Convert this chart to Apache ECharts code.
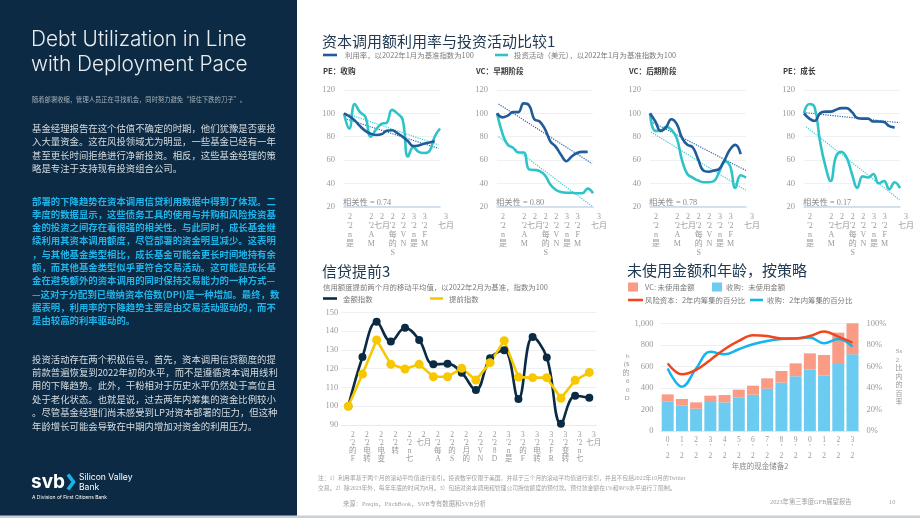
<!DOCTYPE html>
<html><head><meta charset="utf-8">
<script src="https://cdn.jsdelivr.net/npm/echarts@6/dist/echarts.min.js"></script>
<style>html,body{margin:0;padding:0;background:#fff}#c{width:920px;height:518px}</style>
</head><body><div id="c"></div>
<script>
// ---------------- DATA ----------------
const smallTickLabels = ["2\n'2\nn\n是","2\n'2\nF\nM","2\n'2\nA\nM","2\n七月","2\n'2\n每\n的\nS","2\n'2\nV\nN","3\n'2\nn\n是","3\n'2\nF\nM","3\n'2\nA\nM","3\n七月"];
const peBuyoutUtil = [100,97.5,94,89,85,82.5,81.5,82,85,85.5,83,80,76,72,72.5,74,75,76];
const peBuyoutInv  = [100,87,108,101,97,80,86,91,92,103,100,94.5,63,71,67,66,67.5,80,87];
const peBuyoutTrendU = [[0.5,95],[17.7,70]];
const peBuyoutTrendI = [[1,99],[17.7,73]];
const vcEarlyUtil = [100,96.5,98,101,101,108.5,107,95,93,86.5,76,71.5,64.5,59,63,66,67,67];
const vcEarlyInv  = [100,83,73,70.5,66.5,66.5,52,51.5,50.5,47,39,34.5,32.5,32,32,31.5,31.5,35.5,31.5];
const vcEarlyTrendU = [[0.3,108],[17.8,57]];
const vcEarlyTrendI = [[0.3,80],[17.8,20.5]];
const vcLateUtil = [100,93,85,88,95,91,79,73,71,61,51,50,51,52.5,60,69,73,65];
const vcLateInv  = [100,85,85,88.5,86,79,60,48,45,42.5,41,41,42,50,59,55,36,47,45];
const vcLateTrendU = [[0.2,93],[18,51]];
const vcLateTrendI = [[0.2,84],[18,34]];
const peGrowthUtil = [100,95.5,93.5,100,101.5,101.5,103,104.5,104.5,101,96,95.5,95.5,93,93,92.5,89,88];
const peGrowthInv  = [100,108,105,76,55,42,63,67,62,48,36,46,45,48,40,42,35,41,36];
const peGrowthTrendU = [[0.4,100.5],[17.9,92]];
const peGrowthTrendI = [[0.4,88.5],[17.9,26]];
const correlations = ['相关性 = 0.74','相关性 = 0.80','相关性 = 0.78','相关性 = 0.17'];
const panelTitles = ['PE：收购','VC：早期阶段','VC：后期阶段','PE：成长'];

const drawMonths = ["2\n'2\n的\nF","2\n'2\n电\n转","2\n'2\n电\n变","2\n'2\n转","2\n'2\nn\n七","2\n七月","2\n'2\n每\nA","2\n'2\n的\nS","2\n'2\n月\n的","2\n'2\nV\nN","2\n'2\n8\nD","3\n'2\nn\n是","3\n'2\n的\nF","3\n'2\n电\n转","3\n'2\nF\nR","3\n'2\n变\n转","3\n'2\nn\n七","3\n七月"];
const amountIndex  = [100,126.2,145,134.4,141.8,135.3,122.3,122.6,117.8,108.6,125.5,129.8,103.8,136.9,126,90.7,105.6,104.5];
const advanceIndex = [100,117.1,135.3,122.3,119.8,122.3,115.7,115.7,120.2,113.9,123.2,134.9,115.5,115.2,115.2,104.2,113.8,118];

const years = ['2010','2011','2012','2013','2014','2015','2016','2017','2018','2019','2020','2021','2022','2023'];
const buyoutUnused = [272,238,207,269,266,313,337,393,449,508,570,514,622,712];
const vcUnused     = [68,59,59,59,68,71,84,96,108,120,151,192,291,291];
const vcPct2yr     = [62.8,52.6,56.7,66,75.9,83.6,89,88.2,86,86,88.2,92.3,87.6,82];
const buyoutPct2yr = [58,41,58,73.7,71.2,75.9,80.5,83.6,85.4,86,86.7,81.4,85.4,78.3];

const sideTitle = ['Debt Utilization in Line','with Deployment Pace'];
const sideSub = '随着部署收缩，管理人员正在寻找机会，同时努力避免“接住下跌的刀子”。';
const para1 = ['基金经理报告在这个估值不确定的时期，他们犹豫是否要投','入大量资金。这在风投领域尤为明显，一些基金已经有一年','甚至更长时间拒绝进行净新投资。相反，这些基金经理的策','略是专注于支持现有投资组合公司。'];
const para2 = ['部署的下降趋势在资本调用信贷利用数据中得到了体现。二','季度的数据显示，这些债务工具的使用与并购和风险投资基','金的投资之间存在着很强的相关性。与此同时，成长基金继','续利用其资本调用额度，尽管部署的资金明显减少。这表明','，与其他基金类型相比，成长基金可能会更长时间地持有余','额，而其他基金类型似乎更符合交易活动。这可能是成长基','金在避免额外的资本调用的同时保持交易能力的一种方式—','—这对于分配到已缴纳资本倍数(DPI)是一种增加。最终，数','据表明，利用率的下降趋势主要是由交易活动驱动的，而不','是由较高的利率驱动的。'];
const para3 = ['投资活动存在两个积极信号。首先，资本调用信贷额度的提','前款普遍恢复到2022年初的水平，而不是遵循资本调用线利','用的下降趋势。此外，干粉相对于历史水平仍然处于高位且','处于老化状态。也就是说，过去两年内筹集的资金比例较小','。尽管基金经理们尚未感受到LP对资本部署的压力，但这种','年龄增长可能会导致在中期内增加对资金的利用压力。'];
const notes = ['注：1）利用率基于两个月的滚动平均值进行索引。投资数字仅限于美国，并基于三个月的滚动平均值进行索引，并且不包括2022年10月的Twitter','交易。2）除2023年外，每年年底的时间为8月。3）包括对资本调用和管理公司授信额度的预付款。预付款金额在1%和99%水平进行了限制。'];

// ---------------- STYLE ----------------
const CJK = "'Noto Sans CJK SC', 'Noto Sans', sans-serif";
const SERIF = "'Liberation Serif', 'Noto Sans CJK SC', serif";
const cUtil = '#1f5c99', cInv = '#2ec3c8', cTrendU = '#2f68a6', cTrendI = '#37cfd6';

const chart = echarts.init(document.getElementById('c'), null, {renderer:'canvas'});

const grids = [], xAxes = [], yAxes = [], series = [], graphic = [];
const small = [
  {u:peBuyoutUtil, i:peBuyoutInv, tu:peBuyoutTrendU, ti:peBuyoutTrendI, left:344},
  {u:vcEarlyUtil, i:vcEarlyInv, tu:vcEarlyTrendU, ti:vcEarlyTrendI, left:497},
  {u:vcLateUtil, i:vcLateInv, tu:vcLateTrendU, ti:vcLateTrendI, left:650},
  {u:peGrowthUtil, i:peGrowthInv, tu:peGrowthTrendU, ti:peGrowthTrendI, left:804}
];
const pairs = arr => arr.map((v,k)=>[k,v]);
small.forEach((p,k)=>{
  grids.push({left:p.left, top:90, width:96, height:116.7});
  xAxes.push({type:'value', gridIndex:k, min:0, max:18, interval:2,
    axisLine:{show:true, lineStyle:{color:'#c6d9e8', width:1.5}}, axisTick:{show:false}, splitLine:{show:false},
    axisLabel:{showMinLabel:true, showMaxLabel:true, hideOverlap:false, formatter:v=>smallTickLabels[Math.round(v/2)], color:'#999', fontSize:8, lineHeight:9, fontFamily:SERIF, margin:6, padding:[0,0,0,12]}});
  yAxes.push({type:'value', gridIndex:k, min:20, max:120, interval:20,
    axisLine:{show:false}, axisTick:{show:false}, splitLine:{lineStyle:{color:'#eef1f4'}},
    axisLabel:{color:'#9a9a9a', fontSize:8.5, fontFamily:SERIF, margin:9}});
  series.push({type:'line', xAxisIndex:k, yAxisIndex:k, data:p.tu, symbol:'none', lineStyle:{color:cTrendU, width:1.2, type:'dotted'}, silent:true});
  series.push({type:'line', xAxisIndex:k, yAxisIndex:k, data:p.ti, symbol:'none', lineStyle:{color:cTrendI, width:1.2, type:'dotted'}, silent:true});
  series.push({type:'line', xAxisIndex:k, yAxisIndex:k, data:pairs(p.i), smooth:0.45, showSymbol:false, lineStyle:{color:cInv, width:2.6}});
  series.push({type:'line', xAxisIndex:k, yAxisIndex:k, data:pairs(p.u), smooth:0.45, showSymbol:false, lineStyle:{color:cUtil, width:2.6}});
});

// Bottom-left: credit drawdowns
grids.push({left:341.2, top:312.3, width:255.2, height:112.7});
xAxes.push({type:'category', gridIndex:4, data:drawMonths, boundaryGap:true,
  axisLine:{show:true, lineStyle:{color:'#e6ebf0'}}, axisTick:{show:false},
  axisLabel:{interval:0, color:'#999', fontSize:7.5, lineHeight:8, fontFamily:SERIF, margin:6, padding:[0,0,0,9]}});
yAxes.push({type:'value', gridIndex:4, min:90, max:150, interval:10,
  axisLine:{show:false}, axisTick:{show:false}, splitLine:{lineStyle:{color:'#eef1f4'}},
  axisLabel:{color:'#9a9a9a', fontSize:8.5, fontFamily:SERIF, margin:3}});
series.push({type:'line', xAxisIndex:4, yAxisIndex:4, data:amountIndex, smooth:0.4, symbol:'circle', symbolSize:8,
  lineStyle:{color:'#0b2b45', width:2.6}, itemStyle:{color:'#0b2b45'}});
series.push({type:'line', xAxisIndex:4, yAxisIndex:4, data:advanceIndex, smooth:false, symbol:'circle', symbolSize:9,
  lineStyle:{color:'#f7c800', width:2.6}, itemStyle:{color:'#f7c800'}});

// Bottom-right: dry powder
grids.push({left:660.6, top:323.3, width:199, height:107.7});
xAxes.push({type:'category', gridIndex:5, data:years, boundaryGap:true,
  axisLine:{show:true, lineStyle:{color:'#dfe6ec'}}, axisTick:{show:false},
  axisLabel:{interval:0, formatter:y=>y[3]+"\n'\n2", color:'#999', fontSize:7.5, lineHeight:8, fontFamily:SERIF, margin:5},
  name:'年底的现金储备2', nameLocation:'middle', nameGap:31, nameTextStyle:{color:'#888', fontSize:7.5, fontFamily:CJK}});
yAxes.push({type:'value', gridIndex:5, min:0, max:1000, interval:200,
  axisLine:{show:false}, axisTick:{show:false}, splitLine:{lineStyle:{color:'#eef1f4'}},
  axisLabel:{color:'#9a9a9a', fontSize:8.5, fontFamily:SERIF, margin:7, formatter:v=>v.toLocaleString('en-US')},
  name:'b\n($\n的\n6\n0\nD', nameLocation:'middle', nameGap:18, nameRotate:0, nameTextStyle:{color:'#999', fontSize:7, lineHeight:8.5, fontFamily:SERIF}});
yAxes.push({type:'value', gridIndex:5, position:'right', min:0, max:100, interval:20,
  axisLine:{show:false}, axisTick:{show:false}, splitLine:{show:false},
  axisLabel:{color:'#9a9a9a', fontSize:8.5, fontFamily:SERIF, margin:7, formatter:'{value}%'},
  name:'Ss\n2\n比\n内\n的\n百\n率', nameLocation:'middle', nameGap:36, nameRotate:0, nameTextStyle:{color:'#999', fontSize:7, lineHeight:8.5, fontFamily:SERIF}});
series.push({type:'bar', xAxisIndex:5, yAxisIndex:5, data:buyoutUnused, stack:'dp', barWidth:12, itemStyle:{color:'#6ccbf0'}});
series.push({type:'bar', xAxisIndex:5, yAxisIndex:5, data:vcUnused, stack:'dp', barWidth:12, itemStyle:{color:'#f99b85'}});
series.push({type:'line', xAxisIndex:5, yAxisIndex:6, data:buyoutPct2yr, smooth:0.4, showSymbol:false, lineStyle:{color:'#14b4ef', width:2.5}});
series.push({type:'line', xAxisIndex:5, yAxisIndex:6, data:vcPct2yr, smooth:0.4, showSymbol:false, lineStyle:{color:'#f2461f', width:2.5}});

// ---------------- GRAPHIC (text/layout) ----------------
const T = (x,y,text,font,fill,align)=>({type:'text', x, y, silent:true, style:{text, font, fill, textAlign:align||'left', textVerticalAlign:'middle'}});
graphic.push({type:'rect', shape:{x:0,y:0,width:297,height:516}, style:{fill:'#0c2a43'}, silent:true});
graphic.push({type:'rect', shape:{x:0,y:515.5,width:920,height:2.5}, style:{fill:'#c9d1d8'}, silent:true});
graphic.push(T(31, 40, sideTitle[0], "300 20.8px Inter, 'Liberation Sans', sans-serif", '#e9edf0'));
graphic.push(T(31, 65, sideTitle[1], "300 20.8px Inter, 'Liberation Sans', sans-serif", '#e9edf0'));
graphic.push(T(32, 99.5, sideSub, "6.3px "+CJK, '#a9b3bc'));
para1.forEach((s,k)=>graphic.push(T(32, 128.3+k*13.35, s, "9.4px "+CJK, '#d6dce1')));
para2.forEach((s,k)=>graphic.push(T(32, 201+k*13.3, s, "bold 9.4px "+CJK, '#1fb4ea')));
para3.forEach((s,k)=>graphic.push(T(32, 359+k*13.4, s, "9.4px "+CJK, '#d6dce1')));
// logo
graphic.push(T(31, 482, 'svb', "bold 19px Inter, 'Liberation Sans', sans-serif", '#ffffff'));
graphic.push({type:'polyline', shape:{points:[[68,474.5],[73.5,482],[68,489.5]]}, style:{stroke:'#13b5ea', lineWidth:3.6, fill:null}, silent:true});
graphic.push(T(79, 477.5, 'Silicon Valley', "8.6px Inter, 'Liberation Sans', sans-serif", '#ffffff'));
graphic.push(T(79, 487.5, 'Bank', "8.6px Inter, 'Liberation Sans', sans-serif", '#ffffff'));
graphic.push(T(32, 497, 'A Division of First Citizens Bank', "5px Inter, 'Liberation Sans', sans-serif", '#ffffff'));

// top chart header
graphic.push(T(322, 41, '资本调用额利用率与投资活动比较1', "15px "+CJK, '#213a52'));
graphic.push({type:'line', shape:{x1:323,y1:55,x2:337,y2:55}, style:{stroke:cUtil, lineWidth:2.6}, silent:true});
graphic.push(T(345, 55.5, '利用率，以2022年1月为基准指数为100', "7.4px "+CJK, '#7a7a7a'));
graphic.push({type:'line', shape:{x1:495,y1:55,x2:508,y2:55}, style:{stroke:cInv, lineWidth:2.6}, silent:true});
graphic.push(T(514, 55.5, '投资活动（美元），以2022年1月为基准指数为100', "7.4px "+CJK, '#7a7a7a'));
const subX = [323, 476, 629, 783];
panelTitles.forEach((t,k)=>graphic.push(T(subX[k], 71.5, t, "bold 7.6px "+CJK, '#3a3a3a')));
small.forEach((p,k)=>graphic.push(T(p.left-1, 202.5, correlations[k], "8.3px "+SERIF, '#8a8a8a')));

// bottom-left header
graphic.push(T(322, 271, '信贷提前3', "15px "+CJK, '#213a52'));
graphic.push(T(323, 287.5, '信用额度提前两个月的移动平均值，以2022年2月为基准，指数为100', "7.4px "+CJK, '#7a7a7a'));
graphic.push({type:'line', shape:{x1:323,y1:298.5,x2:337,y2:298.5}, style:{stroke:'#0b2b45', lineWidth:2.6}, silent:true});
graphic.push(T(343, 299, '金额指数', "7.4px "+CJK, '#7a7a7a'));
graphic.push({type:'line', shape:{x1:430,y1:298.5,x2:443,y2:298.5}, style:{stroke:'#f7c800', lineWidth:2.6}, silent:true});
graphic.push(T(449, 299, '提前指数', "7.4px "+CJK, '#7a7a7a'));

// bottom-right header
graphic.push(T(627, 270.5, '未使用金额和年龄，按策略', "15px "+CJK, '#213a52'));
graphic.push({type:'rect', shape:{x:628,y:282.5,width:10,height:9}, style:{fill:'#f99b85'}, silent:true});
graphic.push(T(645, 287, 'VC: 未使用金额', "7.4px "+CJK, '#7a7a7a'));
graphic.push({type:'rect', shape:{x:712,y:282.5,width:10,height:9}, style:{fill:'#6ccbf0'}, silent:true});
graphic.push(T(726, 287, '收购：未使用金额', "7.4px "+CJK, '#7a7a7a'));
graphic.push({type:'line', shape:{x1:628,y1:300,x2:643,y2:300}, style:{stroke:'#f2461f', lineWidth:2.6}, silent:true});
graphic.push(T(645, 300.5, '风险资本：2年内筹集的百分比', "7.4px "+CJK, '#7a7a7a'));
graphic.push({type:'line', shape:{x1:750,y1:300,x2:763,y2:300}, style:{stroke:'#14b4ef', lineWidth:2.6}, silent:true});
graphic.push(T(767, 300.5, '收购：2年内筹集的百分比', "7.4px "+CJK, '#7a7a7a'));

// footer
graphic.push(T(318, 478.5, notes[0], "5.8px "+SERIF, '#a0a0a0'));
graphic.push(T(318, 488.5, notes[1], "5.8px "+SERIF, '#a0a0a0'));
graphic.push(T(343, 504, '来源：Preqin，PitchBook，SVB专有数据和SVB分析', "6.3px "+SERIF, '#a0a0a0'));
graphic.push(T(770, 502.5, '2023年第三季度GFB展望报告', "6.3px "+SERIF, '#a0a0a0'));
graphic.push(T(889, 502.5, '10', "6.3px "+SERIF, '#a0a0a0'));

chart.setOption({
  backgroundColor:'#ffffff',
  animation:false,
  grid:grids, xAxis:xAxes, yAxis:yAxes, series:series, graphic:graphic
});
</script></body></html>
